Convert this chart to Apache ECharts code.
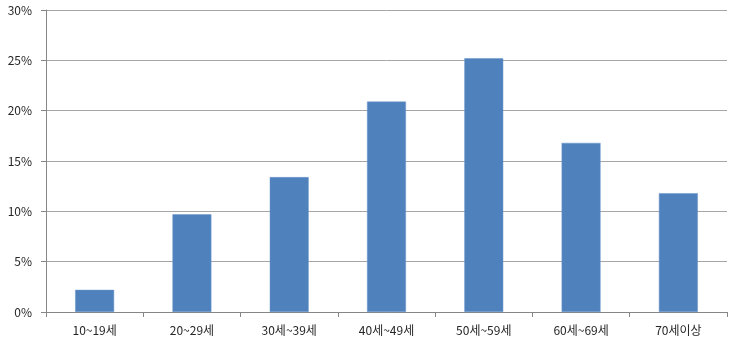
<!DOCTYPE html>
<html><head><meta charset="utf-8">
<script src="https://cdn.jsdelivr.net/npm/echarts@6/dist/echarts.min.js"></script>
<style>html,body{margin:0;padding:0;background:#fff}#c{width:734px;height:349px}</style>
</head><body><div id="c"></div>
<script>
const categories = ['10~19세','20~29세','30세~39세','40세~49세','50세~59세','60세~69세','70세이상'];
const values = [2.2, 9.7, 13.4, 20.9, 25.2, 16.8, 11.8];
const chart = echarts.init(document.getElementById('c'));
chart.setOption({
  animation: false,
  grid: {left: 46, right: 7, top: 10, bottom: 37, containLabel: false},
  xAxis: {
    type: 'category', data: categories,
    axisLine: {lineStyle: {color: '#868686', width: 1}},
    axisTick: {show: true, length: 5, lineStyle: {color: '#868686'}},
    axisLabel: {color: '#262626', fontSize: 12, fontFamily: 'Noto Sans CJK KR', margin: 12}
  },
  yAxis: {
    type: 'value', min: 0, max: 30, interval: 5,
    axisLine: {show: true, lineStyle: {color: '#868686', width: 1}},
    axisTick: {show: true, length: 5, lineStyle: {color: '#868686'}},
    splitLine: {lineStyle: {color: '#a6a6a6', width: 1}},
    axisLabel: {color: '#262626', fontSize: 12, fontFamily: 'Noto Sans CJK KR', margin: 14, formatter: '{value}%'}
  },
  series: [{
    type: 'bar', data: values, barWidth: '40%',
    itemStyle: {color: '#4F81BD', borderColor: '#6a97cc', borderWidth: 0.5}
  }]
});
</script></body></html>
